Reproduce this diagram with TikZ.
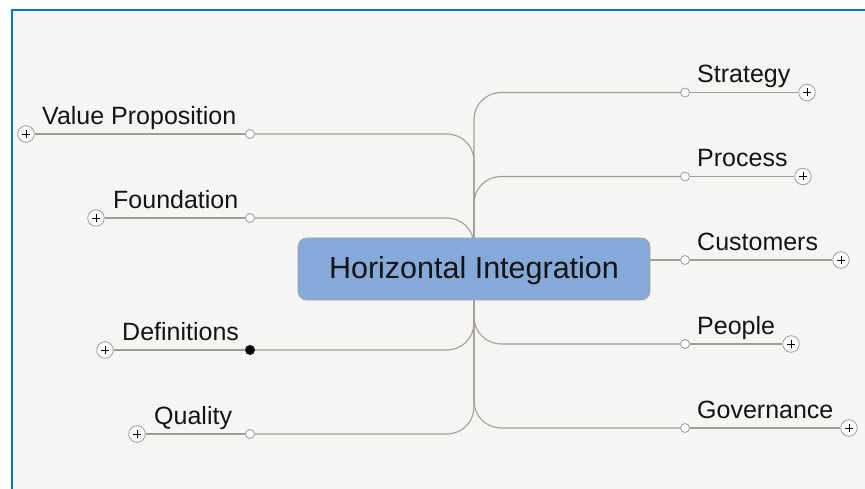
\documentclass[tikz,border=0pt]{standalone}
\usepackage{fontspec}
\setmainfont{Liberation Sans}
\usetikzlibrary{backgrounds}
\definecolor{bgc}{HTML}{F5F5F3}
\definecolor{linec}{HTML}{A39C99}
\definecolor{boxc}{HTML}{85A9D8}
\definecolor{boxb}{HTML}{A8A5A2}
\definecolor{framec}{HTML}{0B72C6}
\definecolor{circc}{HTML}{9C9A98}
\definecolor{txtc}{HTML}{141414}
\begin{document}
\begin{tikzpicture}[x=1pt,y=-1pt,
 conn/.style={draw=linec, line width=1.1pt},
 branch/.style={conn, rounded corners=27pt},
 dotopen/.style={circle, draw=circc, fill=white, line width=0.8pt, minimum size=9pt, inner sep=0pt},
 dotfull/.style={circle, fill=black, minimum size=10pt, inner sep=0pt},
 plusbtn/.style={circle, draw=circc, fill=white, line width=0.8pt, minimum size=16.5pt, inner sep=0pt,
   path picture={\draw[black, line width=0.7pt]
     ([xshift=-4pt]path picture bounding box.center) -- ([xshift=4pt]path picture bounding box.center)
     ([yshift=-4pt]path picture bounding box.center) -- ([yshift=4pt]path picture bounding box.center);}},
 lbl/.style={anchor=base west, inner sep=0pt, font=\fontsize{25}{30}\selectfont, text=txtc},
 hubstyle/.style={rounded corners=9pt, draw=boxb, fill=boxc, line width=0.9pt, minimum width=352pt,
   minimum height=62pt, inner sep=0pt, text height=22pt, text depth=4pt,
   font=\fontsize{30.5}{36}\selectfont, text=txtc}
]
\useasboundingbox (0,0) rectangle (865,489);

% central topic
\node[hubstyle] (hub) at (474,269) {Horizontal Integration};
\coordinate (c) at (474,269);

% right side
\node[dotopen] (os) at (685,92.5) {};
\node[plusbtn] (ps) at (807,92.5) {};
\node[lbl] (ts) at (697,83) {Strategy};

\node[dotopen] (op) at (685,176.5) {};
\node[plusbtn] (pp) at (803,176.5) {};
\node[lbl] (tp) at (697,167) {Process};

\node[dotopen] (oc) at (685,260) {};
\node[plusbtn] (pc) at (841,260) {};
\node[lbl] (tc) at (697,250.5) {Customers};

\node[dotopen] (oe) at (685,344) {};
\node[plusbtn] (pe) at (791,344) {};
\node[lbl] (te) at (697,334.5) {People};

\node[dotopen] (og) at (685,428) {};
\node[plusbtn] (pg) at (849,428) {};
\node[lbl] (tg) at (697,418.5) {Governance};

% left side
\node[dotopen] (ov) at (250,134) {};
\node[plusbtn] (pv) at (26,134) {};
\node[lbl] (tv) at (42,124.5) {Value Proposition};

\node[dotopen] (of) at (250,218) {};
\node[plusbtn] (pf) at (96,218) {};
\node[lbl] (tf) at (113,208.5) {Foundation};

\node[dotfull] (od) at (250,350) {};
\node[plusbtn] (pd) at (105,350) {};
\node[lbl] (td) at (122,340.5) {Definitions};

\node[dotopen] (oq) at (250,434) {};
\node[plusbtn] (pq) at (137,434) {};
\node[lbl] (tq) at (154,424.5) {Quality};

\begin{pgfonlayer}{background}
  \fill[white] (0,0) rectangle (865,489);
  \fill[bgc] (12,10) rectangle (865,489);
  \draw[framec, line width=2.6pt] (12,489) -- (12,10) -- (865,10);
  % right branches
  \draw[branch] (c) |- (os);
  \draw[conn] (os) -- (ps);
  \draw[branch] (c) |- (op);
  \draw[conn] (op) -- (pp);
  \draw[conn] (hub.east |- oc) -- (oc);
  \draw[conn] (oc) -- (pc);
  \draw[branch] (c) |- (oe);
  \draw[conn] (oe) -- (pe);
  \draw[branch] (c) |- (og);
  \draw[conn] (og) -- (pg);
  % left branches
  \draw[branch] (c) |- (ov);
  \draw[conn] (ov) -- (pv);
  \draw[branch] (c) |- (of);
  \draw[conn] (of) -- (pf);
  \draw[branch] (c) |- (od);
  \draw[conn] (od) -- (pd);
  \draw[branch] (c) |- (oq);
  \draw[conn] (oq) -- (pq);
\end{pgfonlayer}
\end{tikzpicture}
\end{document}
